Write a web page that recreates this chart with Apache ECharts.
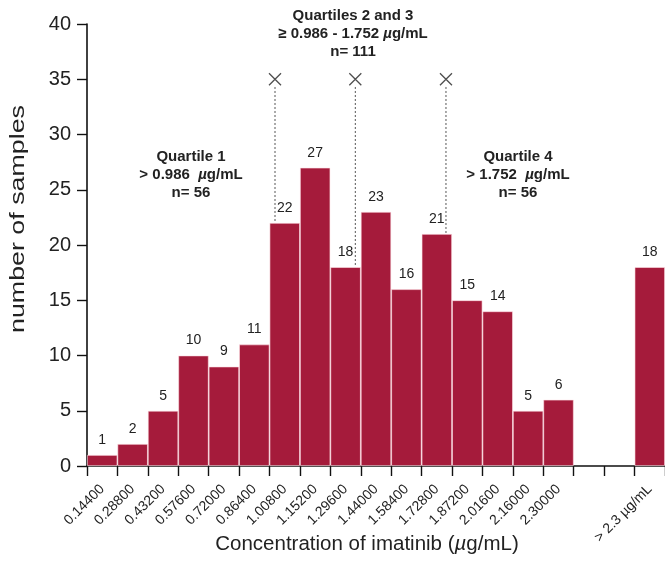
<!DOCTYPE html>
<html>
<head>
<meta charset="utf-8">
<script src="https://cdn.jsdelivr.net/npm/echarts@6/dist/echarts.min.js"></script>
<style>
html, body { margin: 0; padding: 0; background: #fff; }
#main { width: 665px; height: 568px; }
</style>
</head>
<body>
<div id="main"></div>
<script>
// bin labels, one per bar
var binLabels = ['0.14400', '0.28800', '0.43200', '0.57600', '0.72000', '0.86400',
    '1.00800', '1.15200', '1.29600', '1.44000', '1.58400', '1.72800',
    '1.87200', '2.01600', '2.16000', '2.30000'];
var counts = [1, 2, 5, 10, 9, 11, 22, 27, 18, 23, 16, 21, 15, 14, 5, 6];
var overLabel = '> 2.3 \u00b5g/mL';
var overCount = 18;
var emptySlots = ['', ''];
// quartile cut positions, in bin units along the axis
var cutX = [6.18, 8.82, 11.8];
var cutTop = 35;

var FONT = 'Liberation Sans, Arial, Helvetica, sans-serif';
var INK = '#222';

var categories = binLabels.concat(emptySlots, [overLabel]);
var barData = counts.concat(emptySlots.map(function () { return '-'; }), [overCount]);
var nSlots = categories.length;

var cutSeries = cutX.map(function (x) {
    return {
        type: 'line',
        xAxisIndex: 1,
        data: [[x, cutTop - 0.7], [x, counts[Math.floor(x)]]],
        symbol: 'none',
        lineStyle: { color: '#555', width: 1, type: [2, 2] },
        silent: true,
        z: 1
    };
});

function noteRich() {
    return {
        b: { font: 'bold 15px ' + FONT, fill: INK, lineHeight: 18 },
        bi: { font: 'italic bold 15px ' + FONT, fill: INK, lineHeight: 18 }
    };
}

var chart = echarts.init(document.getElementById('main'));

var option = {
    animation: false,
    textStyle: { fontFamily: FONT },
    grid: {
        left: 87, right: 0, top: 24, bottom: 102,
        containLabel: false,
        outerBoundsMode: 'none'
    },
    xAxis: [
        {
            type: 'category',
            data: categories,
            boundaryGap: true,
            axisLine: { show: true, lineStyle: { color: '#111', width: 1.6 } },
            axisTick: { show: true, interval: 0, length: 10, lineStyle: { color: '#111', width: 1.4 } },
            axisLabel: {
                interval: 0,
                rotate: 45,
                margin: 21,
                fontSize: 14,
                color: INK,
                fontFamily: FONT
            },
            name: '{n|Concentration of imatinib (}{i|\u00b5}{n|g/mL)}',
            nameLocation: 'middle',
            nameGap: 68,
            nameMoveOverlap: false,
            nameTextStyle: {
                padding: [0, 18, 0, 0],
                rich: {
                    n: { fontSize: 20.5, color: INK, fontFamily: FONT },
                    i: { fontSize: 20.5, color: INK, fontFamily: FONT, fontStyle: 'italic' }
                }
            }
        },
        {
            // hidden continuous axis for the quartile cut lines
            type: 'value',
            min: 0,
            max: nSlots,
            show: false
        }
    ],
    yAxis: {
        type: 'value',
        min: 0,
        max: 40,
        interval: 5,
        splitLine: { show: false },
        axisLine: { show: true, lineStyle: { color: '#111', width: 1.6 } },
        axisTick: { show: true, length: 10, lineStyle: { color: '#111', width: 1.4 } },
        axisLabel: { fontSize: 20, color: INK, margin: 16, fontFamily: FONT }
    },
    series: [
        {
            type: 'bar',
            xAxisIndex: 0,
            data: barData,
            barCategoryGap: '0%',
            itemStyle: {
                color: '#a51b3b',
                borderColor: 'rgba(255,225,230,0.75)',
                borderWidth: 0.8
            },
            label: {
                show: true,
                position: 'top',
                distance: 8,
                fontSize: 14,
                color: INK,
                fontFamily: FONT
            },
            z: 2
        },
        {
            type: 'scatter',
            xAxisIndex: 1,
            data: cutX.map(function (x) { return [x, cutTop]; }),
            symbol: 'path://M0,0L10,10M10,0L0,10',
            symbolSize: 12,
            itemStyle: { color: 'none', borderColor: '#222', borderWidth: 1.3 },
            silent: true,
            z: 3
        }
    ].concat(cutSeries),
    graphic: [
        {
            type: 'text',
            x: 18, y: 219,
            rotation: Math.PI / 2,
            scaleX: 1.34,
            style: {
                text: 'number of samples',
                font: '20px ' + FONT,
                fill: INK,
                align: 'center',
                verticalAlign: 'middle'
            }
        },
        {
            type: 'text',
            x: 353, y: 7,
            style: {
                text: '{b|Quartiles 2 and 3}\n{b|\u2265 0.986 - 1.752 }{bi|\u00b5}{b|g/mL}\n{b|n= 111}',
                align: 'center',
                rich: noteRich()
            }
        },
        {
            type: 'text',
            x: 191, y: 148,
            style: {
                text: '{b|Quartile 1}\n{b|> 0.986  }{bi|\u00b5}{b|g/mL}\n{b|n= 56}',
                align: 'center',
                rich: noteRich()
            }
        },
        {
            type: 'text',
            x: 518, y: 148,
            style: {
                text: '{b|Quartile 4}\n{b|> 1.752  }{bi|\u00b5}{b|g/mL}\n{b|n= 56}',
                align: 'center',
                rich: noteRich()
            }
        }
    ]
};

chart.setOption(option);
</script>
</body>
</html>
